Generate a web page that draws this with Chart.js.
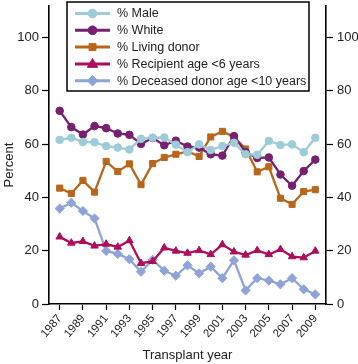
<!DOCTYPE html>
<html><head><meta charset="utf-8">
<script src="https://cdn.jsdelivr.net/npm/chart.js@4/dist/chart.umd.min.js"></script>
<style>html,body{margin:0;padding:0;background:#fff}#wrap{width:358px;height:364px}</style>
</head><body><div id="wrap"><canvas id="c" width="358" height="364"></canvas></div>
<script>
const years = [1987,1988,1989,1990,1991,1992,1993,1994,1995,1996,1997,1998,1999,2000,2001,2002,2003,2004,2005,2006,2007,2008,2009];
const xTickYears = [1987,1989,1991,1993,1995,1997,1999,2001,2003,2005,2007,2009];
const yTickValues = [0,20,40,60,80,100];
const seriesNames = ['% Male','% White','% Living donor','% Recipient age <6 years','% Deceased donor age <10 years'];
const male = [61.6,62.4,60.8,60.7,59.3,58.7,58.0,62.0,62.4,62.5,59.8,57.0,59.9,57.8,59.3,60.5,56.2,56.0,61.2,59.7,59.9,57.0,62.4];
const white = [72.5,66.4,63.6,66.8,66.0,64.0,63.5,60.1,62.3,59.6,61.3,59.1,58.7,56.2,55.7,63.0,57.0,54.8,55.0,48.6,44.4,49.9,54.2];
const livingDonor = [43.5,41.5,46.4,42.0,53.5,49.7,52.6,44.8,52.7,55.0,56.2,57.3,55.4,62.7,64.8,62.7,58.2,49.6,51.5,39.7,37.4,42.2,42.9];
const recipientUnder6 = [25.2,22.9,23.5,21.8,22.5,21.4,23.8,15.3,16.0,21.1,19.9,19.1,20.1,18.6,22.3,19.6,18.4,20.1,18.6,20.5,17.8,17.4,19.9];
const deceasedUnder10 = [35.8,38.0,34.9,32.1,19.9,18.8,16.8,12.1,16.6,12.5,10.6,14.5,11.5,14.0,9.7,16.4,5.1,9.7,8.8,7.4,9.7,5.5,3.6];

const colors = ['#9ecbd8','#76206f','#b8661b','#ad0d5b','#8ea4d6'];
const styles = ['circle','circle','rect','triangle','rectRot'];
const radii = [3.8,3.8,4.3,4.3,4.6];
const allSeries = [male, white, livingDonor, recipientUnder6, deceasedUnder10];
const FONT = "'Liberation Sans', Arial, Helvetica, sans-serif";

const datasets = allSeries.map((vals, i) => ({
  label: seriesNames[i],
  data: years.map((y, j) => ({x: y, y: vals[j]})),
  borderColor: colors[i],
  backgroundColor: colors[i],
  pointBackgroundColor: colors[i],
  pointBorderColor: colors[i],
  pointStyle: styles[i],
  pointRadius: radii[i],
  pointBorderWidth: 1,
  borderWidth: 2.3,
  tension: 0,
  yAxisID: 'y'
}));

function drawMarker(ctx, style, x, y, r, color) {
  ctx.save();
  ctx.fillStyle = color; ctx.strokeStyle = color; ctx.lineWidth = 1;
  ctx.beginPath();
  if (style === 'circle') { ctx.arc(x, y, r, 0, Math.PI*2); }
  else if (style === 'rect') { const s = r*Math.SQRT1_2; ctx.rect(x-s, y-s, 2*s, 2*s); }
  else if (style === 'triangle') {
    ctx.moveTo(x, y - r*1.1); ctx.lineTo(x + r*1.05, y + r*0.7); ctx.lineTo(x - r*1.05, y + r*0.7); ctx.closePath();
  } else if (style === 'rectRot') {
    ctx.moveTo(x, y-r); ctx.lineTo(x+r, y); ctx.lineTo(x, y+r); ctx.lineTo(x-r, y); ctx.closePath();
  }
  ctx.fill(); ctx.stroke();
  ctx.restore();
}

const legendPlugin = {
  id: 'boxLegend',
  afterDraw(chart) {
    const ctx = chart.ctx;
    ctx.save();
    // y-axis title
    ctx.fillStyle = '#222';
    ctx.font = '13px ' + FONT;
    ctx.textAlign = 'center'; ctx.textBaseline = 'middle';
    ctx.translate(9, 165); ctx.rotate(-Math.PI/2);
    ctx.fillText('Percent', 0, 0);
    ctx.restore();

    ctx.save();
    const bx = 67, by = 2, bw = 242, bh = 89;
    ctx.fillStyle = '#fff';
    ctx.fillRect(bx, by, bw, bh);
    ctx.strokeStyle = '#000'; ctx.lineWidth = 1.5;
    ctx.strokeRect(bx, by, bw, bh);
    ctx.font = '12.5px ' + FONT;
    ctx.textAlign = 'left'; ctx.textBaseline = 'middle';
    chart.data.datasets.forEach((ds, i) => {
      const yy = 13.5 + i * 16.8;
      ctx.strokeStyle = ds.borderColor; ctx.lineWidth = 3;
      ctx.beginPath(); ctx.moveTo(75, yy); ctx.lineTo(110, yy); ctx.stroke();
      drawMarker(ctx, ds.pointStyle, 92.5, yy, ds.pointRadius + 0.6, ds.borderColor);
      ctx.fillStyle = '#222';
      ctx.fillText(ds.label, 117, yy + 0.5);
    });
    ctx.restore();
  }
};

const yAxisCommon = (pos) => ({
  type: 'linear', position: pos, min: 0, max: 112,
  afterBuildTicks: s => { s.ticks = yTickValues.map(v => ({value: v})); },
  afterFit: s => { s.width = pos === 'left' ? 49 : 32; s.paddingTop = 0; s.paddingBottom = 0; },
  grid: { drawOnChartArea: false, drawTicks: true, tickLength: 7, tickColor: '#000', tickWidth: 1.2 },
  border: { display: true, color: '#000', width: 1.6 },
  ticks: { color: '#222', font: { family: FONT, size: 13 }, padding: pos === 'left' ? 3 : 4, callback: v => String(v) },
  title: { display: false }
});

new Chart(document.getElementById('c'), {
  type: 'line',
  data: { datasets },
  options: {
    responsive: false, animation: false, devicePixelRatio: 1,
    layout: { padding: 0 },
    plugins: { legend: { display: false }, tooltip: { enabled: false } },
    scales: {
      x: {
        type: 'linear', position: 'bottom', min: 1986.08, max: 2009.92,
        afterBuildTicks: s => { s.ticks = xTickYears.map(v => ({value: v})); },
        afterFit: s => { s.height = 60; s.paddingLeft = 0; s.paddingRight = 0; },
        grid: { drawOnChartArea: false, drawTicks: true, tickLength: 6, tickColor: '#000', tickWidth: 1.2 },
        border: { display: true, color: '#000', width: 1.6 },
        ticks: { color: '#222', font: { family: FONT, size: 11.5 }, minRotation: 50, maxRotation: 50, padding: 2, autoSkip: false, callback: v => String(v) },
        title: { display: true, text: 'Transplant year', color: '#222', font: { family: FONT, size: 13 }, padding: { top: 0, bottom: 1 } }
      },
      y: yAxisCommon('left'),
      y2: yAxisCommon('right')
    }
  },
  plugins: [legendPlugin]
});
</script>
</body></html>
